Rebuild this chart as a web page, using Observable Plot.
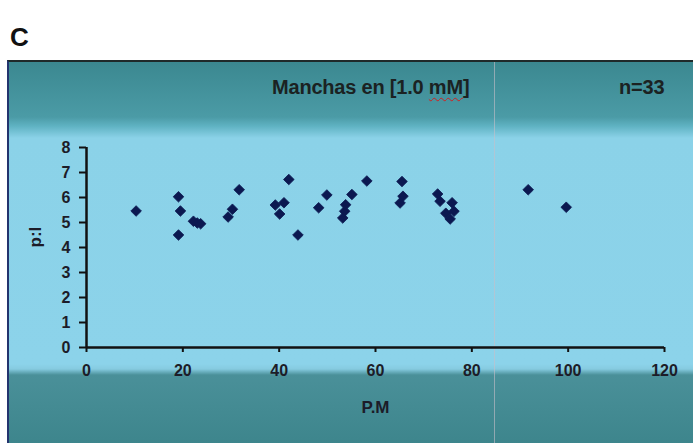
<!DOCTYPE html>
<html>
<head>
<meta charset="utf-8">
<script src="https://cdn.jsdelivr.net/npm/d3@7"></script>
<script src="https://cdn.jsdelivr.net/npm/@observablehq/plot@0.6"></script>
<style>
  html, body { margin: 0; padding: 0; background: #fff; }
  #wrap { position: relative; width: 693px; height: 443px; overflow: hidden; font-family: "Liberation Sans Narrow", "Arial Narrow", "Liberation Sans", Arial, sans-serif; }
  #letter { position: absolute; left: 10px; top: 22px; font: 700 26px "Liberation Sans", Arial, sans-serif; color: #111; }
  #panel { position: absolute; left: 7px; top: 60px; right: 0; bottom: 0;
    border-left: 2px solid #23346e; border-top: 2px solid #1f2a2a;
    background: linear-gradient(to bottom, #3b8890 0px, #4b9ba6 55px, #5fb2c2 64px, #8bd2e8 76px, #8cd3ea 302px, #86cbe0 307px, #4a9099 313px, #3d858c 383px); }
  #vline { position: absolute; left: 494px; top: 62px; width: 1px; bottom: 0; background: rgba(200,190,200,0.6); }
  .hdr { position: absolute; top: 76px; font-weight: 700; font-size: 20px; color: #1b2222; letter-spacing: -0.2px; }
  #title { left: 272px; }
  #title span { text-decoration: underline wavy #d02020; text-decoration-thickness: 1px; text-underline-offset: 3px; }
  #nlab { left: 619px; }
  #chart { position: absolute; left: 0; top: 0; }
</style>
</head>
<body>
<div id="wrap">
  <div id="letter">C</div>
  <div id="panel"></div>
  <div id="vline"></div>
  <div id="title" class="hdr">Manchas en [1.0 <span>mM</span>]</div>
  <div id="nlab" class="hdr">n=33</div>
  <div id="chart"></div>
</div>
<script>
// P.M (molecular weight) values
const pm = [10.3, 19.1, 19.5, 19.1, 22.2, 23.0, 23.7, 29.4, 30.3, 31.7,
            39.2, 40.1, 41.0, 42.0, 43.9, 48.2, 49.9, 53.2, 53.6, 53.8,
            55.1, 58.2, 65.5, 65.7, 65.1, 72.9, 73.4, 75.9, 74.6, 76.3,
            75.5, 91.7, 99.6];
// pI values
const pI = [5.46, 6.03, 5.46, 4.50, 5.05, 4.98, 4.95, 5.22, 5.53, 6.31,
            5.70, 5.34, 5.79, 6.72, 4.50, 5.59, 6.10, 5.18, 5.45, 5.71,
            6.12, 6.66, 6.64, 6.05, 5.78, 6.14, 5.85, 5.79, 5.37, 5.45,
            5.14, 6.31, 5.61];
const xTicks = [0, 20, 40, 60, 80, 100, 120];
const yTicks = [0, 1, 2, 3, 4, 5, 6, 7, 8];
const xLabel = "P.M";
const yLabel = "p:I";

const data = pm.map((x, i) => ({x, y: pI[i]}));
const font = '"Liberation Sans Narrow", "Arial Narrow", "Liberation Sans", Arial, sans-serif';

const chart = Plot.plot({
  width: 693,
  height: 443,
  marginLeft: 86,
  marginRight: 29,
  marginTop: 147,
  marginBottom: 96,
  style: { background: "transparent", fontFamily: font, fontSize: "16px", fontWeight: 700, color: "#1c1c28" },
  x: { domain: [0, 120] },
  y: { domain: [0, 8] },
  marks: [
    Plot.axisX({ ticks: xTicks, tickSize: 5, tickPadding: 12, label: null, stroke: "#111", strokeWidth: 2, fill: "#1c1c28", fontSize: 16, fontWeight: 700 }),
    Plot.axisY({ ticks: yTicks, tickSize: 7, tickPadding: 9, label: null, stroke: "#111", strokeWidth: 2, fill: "#1c1c28", fontSize: 16, fontWeight: 700 }),
    Plot.ruleY([0], { stroke: "#111", strokeWidth: 2.5 }),
    Plot.ruleX([0], { stroke: "#111", strokeWidth: 2.5 }),
    Plot.dot(data, { x: "x", y: "y", symbol: "diamond2", r: 4.8, fill: "#0b1850", stroke: "#0b1850", strokeWidth: 0.8 }),
    Plot.text([xLabel], { frameAnchor: "bottom", dy: 60, lineAnchor: "middle", fontSize: 17, fontWeight: 700, fill: "#1c1c28" }),
    Plot.text([yLabel], { frameAnchor: "left", dx: -51, rotate: -90, lineAnchor: "middle", fontSize: 17, fontWeight: 700, fill: "#1c1c28" })
  ]
});
document.getElementById("chart").appendChild(chart);
</script>
</body>
</html>
